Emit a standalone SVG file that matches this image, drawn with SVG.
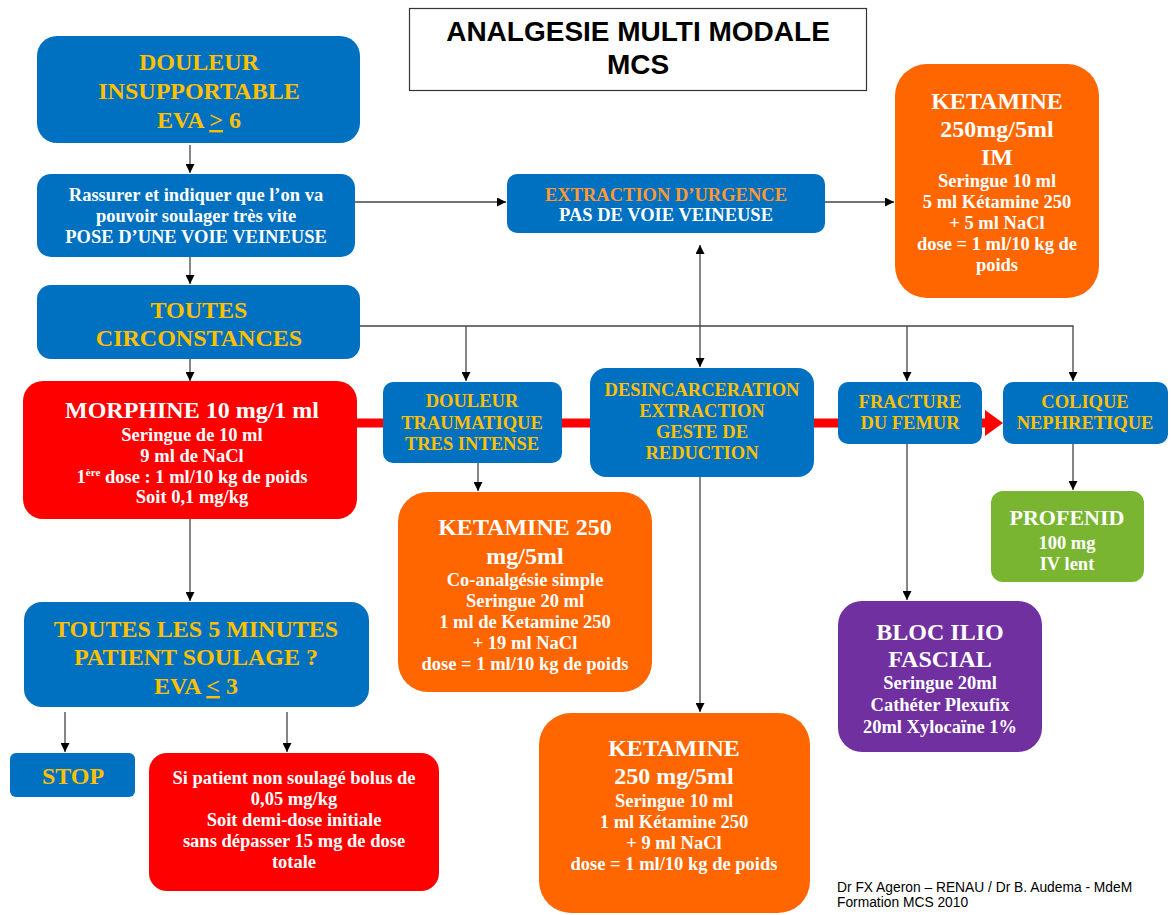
<svg xmlns="http://www.w3.org/2000/svg" width="1171" height="915" viewBox="0 0 1171 915">
<defs>
<marker id="ah" viewBox="0 0 10 10" refX="10" refY="5" markerWidth="9" markerHeight="9" orient="auto-start-reverse" markerUnits="userSpaceOnUse"><path d="M0,0 L10,5 L0,10 z" fill="#000"/></marker>
</defs>
<style>
.blue{fill:#0070C0}
.red{fill:#FF0000}
.orange{fill:#FF6600}
.green{fill:#7AB532}
.purple{fill:#7030A0}
text{font-family:"Liberation Serif","Times New Roman",serif;font-weight:bold;text-anchor:middle}
.big{font-size:24px}
.sm{font-size:18.5px}
.y{fill:#FFC000}
.w{fill:#FFFFFF}
.o{fill:#FF9933}
.ln{fill:none;stroke:#444;stroke-width:1.3}
.title{font-family:"Liberation Sans",Arial,sans-serif;font-size:28px;fill:#000}
.credit{font-family:"Liberation Sans",Arial,sans-serif;font-weight:normal;font-size:13.8px;fill:#000;text-anchor:start}
</style>
<rect width="1171" height="915" fill="#fff"/>
<g id="title">
<rect x="409.5" y="8.5" width="457" height="82" fill="#fff" stroke="#333" stroke-width="1.2"/>
<text class="title" x="638" y="41">ANALGESIE MULTI MODALE</text>
<text class="title" x="638" y="74">MCS</text>
</g>
<g id="connectors">
<line class="ln" x1="190" y1="145" x2="190" y2="173" marker-end="url(#ah)"/>
<line class="ln" x1="190" y1="257" x2="190" y2="284" marker-end="url(#ah)"/>
<line class="ln" x1="355" y1="202" x2="506" y2="202" marker-end="url(#ah)"/>
<line class="ln" x1="825" y1="202" x2="894" y2="202" marker-end="url(#ah)"/>
<polyline class="ln" points="360,326 1073,326 1073,381" marker-end="url(#ah)"/>
<line class="ln" x1="466" y1="326" x2="466" y2="381" marker-end="url(#ah)"/>
<line class="ln" x1="907" y1="326" x2="907" y2="381" marker-end="url(#ah)"/>
<line class="ln" x1="700" y1="245" x2="700" y2="367" marker-start="url(#ah)" marker-end="url(#ah)"/>
<line class="ln" x1="190" y1="359" x2="190" y2="381" marker-end="url(#ah)"/>
<line x1="357" y1="423" x2="990" y2="423" stroke="#FF0000" stroke-width="9"/>
<path d="M985,410 L1003,423 L985,436 z" fill="#FF0000"/>
<line class="ln" x1="478" y1="463" x2="478" y2="491" marker-end="url(#ah)"/>
<line class="ln" x1="700" y1="477" x2="700" y2="712" marker-end="url(#ah)"/>
<line class="ln" x1="907" y1="444" x2="907" y2="600" marker-end="url(#ah)"/>
<line class="ln" x1="1073" y1="444" x2="1073" y2="490" marker-end="url(#ah)"/>
<line class="ln" x1="190" y1="519" x2="190" y2="601" marker-end="url(#ah)"/>
<line class="ln" x1="65" y1="712" x2="65" y2="752" marker-end="url(#ah)"/>
<line class="ln" x1="287" y1="712" x2="287" y2="752" marker-end="url(#ah)"/>
</g>
<g id="douleur">
<rect class="blue" x="37" y="36" width="323" height="107" rx="20"/>
<text class="big y" x="199" y="70">DOULEUR</text>
<text class="big y" x="199" y="99">INSUPPORTABLE</text>
<text class="big y" x="199" y="128">EVA <tspan text-decoration="underline">&gt;</tspan> 6</text>
</g>
<g id="rassurer">
<rect class="blue" x="37" y="174" width="318" height="83" rx="14"/>
<text class="sm w" x="196" y="201">Rassurer et indiquer que l’on va</text>
<text class="sm w" x="196" y="222">pouvoir soulager très vite</text>
<text class="sm w" x="196" y="243">POSE D’UNE VOIE VEINEUSE</text>
</g>
<g id="circonstances">
<rect class="blue" x="37" y="285" width="323" height="74" rx="14"/>
<text class="big y" x="199" y="318">TOUTES</text>
<text class="big y" x="199" y="346">CIRCONSTANCES</text>
</g>
<g id="extraction">
<rect class="blue" x="507" y="174" width="318" height="59" rx="10"/>
<text class="sm o" x="666" y="201">EXTRACTION D’URGENCE</text>
<text class="sm w" x="666" y="221">PAS DE VOIE VEINEUSE</text>
</g>
<g id="ketamine-im">
<rect class="orange" x="895" y="64" width="204" height="234" rx="32"/>
<text class="big w" x="997" y="109">KETAMINE</text>
<text class="big w" x="997" y="137">250mg/5ml</text>
<text class="big w" x="997" y="165">IM</text>
<text class="sm w" x="997" y="187">Seringue 10 ml</text>
<text class="sm w" x="997" y="208">5 ml Kétamine 250</text>
<text class="sm w" x="997" y="229">+ 5 ml NaCl</text>
<text class="sm w" x="997" y="250">dose = 1 ml/10 kg de</text>
<text class="sm w" x="997" y="271">poids</text>
</g>
<g id="morphine">
<rect class="red" x="23" y="381" width="334" height="138" rx="20"/>
<text class="big w" x="192" y="418">MORPHINE 10 mg/1 ml</text>
<text class="sm w" x="192" y="441">Seringue de 10 ml</text>
<text class="sm w" x="192" y="462">9 ml de NaCl</text>
<text class="sm w" x="192" y="483">1<tspan font-size="11px" dy="-7">ère</tspan><tspan dy="7"> dose : 1 ml/10 kg de poids</tspan></text>
<text class="sm w" x="192" y="503">Soit 0,1 mg/kg</text>
</g>
<g id="douleur-traumatique">
<rect class="blue" x="383" y="382" width="179" height="81" rx="10"/>
<text class="sm y" x="472" y="407">DOULEUR</text>
<text class="sm y" x="472" y="429">TRAUMATIQUE</text>
<text class="sm y" x="472" y="450">TRES INTENSE</text>
</g>
<g id="desincarceration">
<rect class="blue" x="590" y="368" width="224" height="109" rx="16"/>
<text class="sm y" x="702" y="396">DESINCARCERATION</text>
<text class="sm y" x="702" y="417">EXTRACTION</text>
<text class="sm y" x="702" y="438">GESTE DE</text>
<text class="sm y" x="702" y="459">REDUCTION</text>
</g>
<g id="fracture">
<rect class="blue" x="838" y="382" width="144" height="62" rx="10"/>
<text class="sm y" x="910" y="408">FRACTURE</text>
<text class="sm y" x="910" y="429">DU FEMUR</text>
</g>
<g id="colique">
<rect class="blue" x="1003" y="382" width="165" height="62" rx="10"/>
<text class="sm y" x="1085" y="408">COLIQUE</text>
<text class="sm y" x="1085" y="429">NEPHRETIQUE</text>
</g>
<g id="profenid">
<rect class="green" x="991" y="491" width="153" height="91" rx="12"/>
<text class="w" x="1067" y="525" font-size="22px">PROFENID</text>
<text class="sm w" x="1067" y="549">100 mg</text>
<text class="sm w" x="1067" y="570">IV lent</text>
</g>
<g id="ketamine-coanalgesie">
<rect class="orange" x="398" y="492" width="254" height="200" rx="30"/>
<text class="big w" x="525" y="535">KETAMINE 250</text>
<text class="big w" x="525" y="564">mg/5ml</text>
<text class="sm w" x="525" y="586">Co-analgésie simple</text>
<text class="sm w" x="525" y="607">Seringue 20 ml</text>
<text class="sm w" x="525" y="628">1 ml de Ketamine 250</text>
<text class="sm w" x="525" y="649">+ 19 ml NaCl</text>
<text class="sm w" x="525" y="670">dose = 1 ml/10 kg de poids</text>
</g>
<g id="ketamine-bas">
<rect class="orange" x="539" y="713" width="271" height="200" rx="32"/>
<text class="big w" x="674" y="756">KETAMINE</text>
<text class="big w" x="674" y="784">250 mg/5ml</text>
<text class="sm w" x="674" y="807">Seringue 10 ml</text>
<text class="sm w" x="674" y="828">1 ml Kétamine 250</text>
<text class="sm w" x="674" y="849">+ 9 ml NaCl</text>
<text class="sm w" x="674" y="870">dose = 1 ml/10 kg de poids</text>
</g>
<g id="bloc">
<rect class="purple" x="838" y="601" width="204" height="151" rx="24"/>
<text class="big w" x="940" y="640">BLOC ILIO</text>
<text class="big w" x="940" y="667">FASCIAL</text>
<text class="sm w" x="940" y="689">Seringue 20ml</text>
<text class="sm w" x="940" y="711">Cathéter Plexufix</text>
<text class="sm w" x="940" y="733">20ml Xylocaïne 1%</text>
</g>
<g id="toutes-5-minutes">
<rect class="blue" x="24" y="602" width="345" height="105" rx="18"/>
<text class="big y" x="196" y="637">TOUTES LES 5 MINUTES</text>
<text class="big y" x="196" y="665">PATIENT SOULAGE ?</text>
<text class="big y" x="196" y="694">EVA <tspan text-decoration="underline">&lt;</tspan> 3</text>
</g>
<g id="stop">
<rect class="blue" x="10" y="753" width="125" height="44" rx="6"/>
<text class="big y" x="73" y="784">STOP</text>
</g>
<g id="bolus">
<rect class="red" x="149" y="753" width="290" height="138" rx="18"/>
<text class="sm w" x="294" y="784">Si patient non soulagé bolus de</text>
<text class="sm w" x="294" y="805">0,05 mg/kg</text>
<text class="sm w" x="294" y="826">Soit demi-dose initiale</text>
<text class="sm w" x="294" y="847">sans dépasser 15 mg de dose</text>
<text class="sm w" x="294" y="868">totale</text>
</g>
<g id="credits">
<text class="credit" x="837" y="892">Dr FX Ageron – RENAU / Dr B. Audema -  MdeM</text>
<text class="credit" x="837" y="907">Formation MCS 2010</text>
</g>
</svg>
